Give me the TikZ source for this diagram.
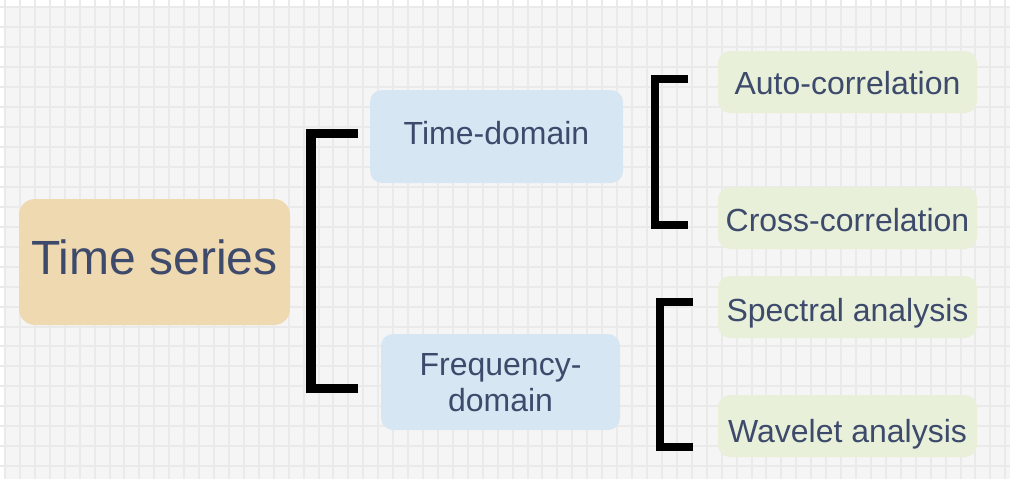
\documentclass[tikz,border=0pt]{standalone}
\usepackage{fontspec}
\setmainfont{Liberation Sans}

\definecolor{txtblue}{HTML}{3D4A6B}
\definecolor{gridbg}{HTML}{F5F5F5}
\definecolor{gridln}{HTML}{EAEAEA}
\definecolor{sand}{HTML}{EFD9B0}
\definecolor{skyblue}{HTML}{D7E6F3}
\definecolor{palegreen}{HTML}{E8F0DA}

\tikzset{
  box/.style={rounded corners=9pt, text=txtblue, align=center, inner sep=0pt,
    font=\fontsize{24}{27.5}\selectfont},
  textdrop/.style={text height=#1, text depth=0pt},
  rootbox/.style={box, fill=sand, rounded corners=12pt,
    font=\fontsize{36}{40}\selectfont,
    minimum width=203.25pt, minimum height=94.5pt},
  domainbox/.style={box, fill=skyblue},
  methodbox/.style={box, fill=palegreen,
    minimum width=194.25pt, minimum height=46.5pt},
  gridline/.style={gridln, line width=1.5pt},
  bracket/.style={black, line width=7pt},
  smallbracket/.style={black, line width=6pt}
}

\begin{document}
\begin{tikzpicture}[x=0.75pt, y=-0.75pt]
\useasboundingbox (0,0) rectangle (1010,479);
%%paper
\fill[white] (0,0) rectangle (1010,479);
\fill[gridbg] (5,7) rectangle (1010,479);
\foreach \i in {0,...,67}
  \draw[gridline] ({5+14.93*\i},0) -- ({5+14.93*\i},479);
\foreach \j in {0,...,23}
  \draw[gridline] (0,{7.3+19.95*\j}) -- (1010,{7.3+19.95*\j});
%%root
\node[rootbox, textdrop=19pt] (tseries) at (154.5,262) {Time series};
%domains
\node[domainbox, textdrop=12.7pt, minimum width=189.75pt, minimum height=69.75pt]
  (tdomain) at (496.5,136.5) {Time-domain};
\node[domainbox, textdrop=44.6pt, minimum width=179.25pt, minimum height=72pt]
  (fdomain) at (500.5,382) {Frequency-\\domain};
%methods
\node[methodbox, textdrop=18.7pt] (autocorr) at (847.5,82) {Auto-correlation};
\node[methodbox, textdrop=20.2pt] (crosscorr) at (847.5,218) {Cross-correlation};
\node[methodbox, textdrop=22.4pt] (spectral) at (847.5,307) {Spectral analysis};
\node[methodbox, textdrop=24.7pt] (wavelet) at (847.5,426) {Wavelet analysis};
%%brackets
\draw[bracket] (358,133.5) -| (311,388.5) -- (358,388.5);
\draw[smallbracket] (688,78.5) -| (654.5,224.5) -- (688,224.5);
\draw[smallbracket] (693,301.5) -| (660,446.5) -- (693,446.5);
\end{tikzpicture}
\end{document}
